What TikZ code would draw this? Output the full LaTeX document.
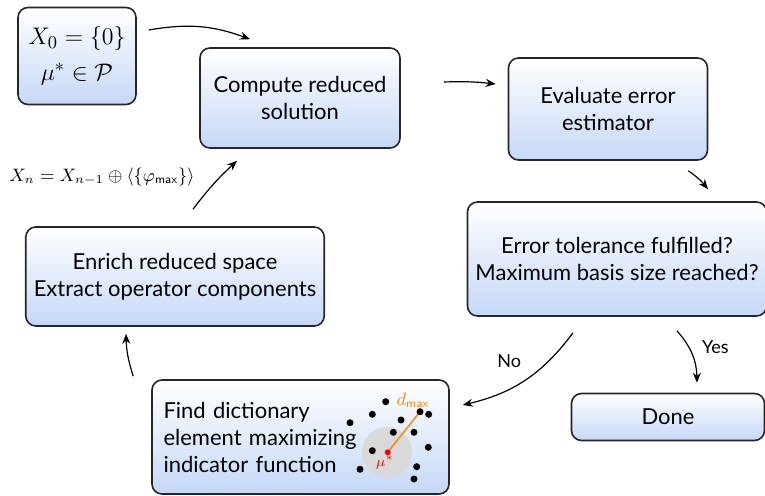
\documentclass[tikz,border=0pt]{standalone}
\usepackage{fontspec}
\setmainfont{Lato}
\usetikzlibrary{arrows.meta}
\definecolor{boxblue}{RGB}{197,216,247}
\definecolor{dorange}{RGB}{250,140,20}

\begin{document}
\begin{tikzpicture}[x=0.5pt, y=-0.5pt, font=\fontsize{11}{13.5}\selectfont]
\tikzstyle{stage} = [draw=black!85, thick, rounded corners=5pt, top color=white, bottom color=boxblue, align=center, inner sep=4pt]
\tikzstyle{flow} = [-{Stealth[length=5pt, width=4pt]}, semithick]
\tikzstyle{pt} = [circle, fill=black, inner sep=0pt, minimum size=3.5pt]
\useasboundingbox (0,0) rectangle (765,496);
\node[stage, minimum width=59pt, minimum height=48.5pt, font=\fontsize{13}{16}\selectfont] (init) at (77,56) {$X_0 = \{0\}$\\[2pt] $\mu^* \in \mathcal{P}$};
\node[stage, minimum width=100pt, minimum height=50pt] (compute) at (300,98) {Compute reduced\\solution};
\node[stage, minimum width=99.5pt, minimum height=51pt] (eval) at (608,109) {Evaluate error\\estimator};
\node[stage, minimum width=147.5pt, minimum height=57pt] (check) at (617,259) {Error tolerance fulfilled?\\Maximum basis size reached?};
\node[stage, minimum width=96.5pt, minimum height=23.5pt] (done) at (668,417) {Done};
\node[stage, minimum width=148.5pt, minimum height=57pt, text width=137pt, align=left, inner sep=5.5pt] (find) at (300.5,437) {Find dictionary\\element maximizing\\indicator function};
\node[stage, minimum width=148pt, minimum height=49.5pt] (enrich) at (175,276.5) {Enrich reduced space\\Extract operator components};
\node[font=\small] (update) at (102,177) {$X_n = X_{n-1} \oplus \langle\{\varphi_{\mathsf{max}}\}\rangle$};

% dictionary sketch
\fill[gray!30] (387,452) circle (12.5pt);
\foreach \px/\py in {385.7/401.7, 372.3/414.3, 350/422.7, 401/420, 428.7/414.3, 393.3/432.3, 414/432.3, 428.3/447.3, 372.3/450.7, 416.7/466.7, 360/469.3, 414/479}
  \node[pt] at (\px,\py) {};
\coordinate (mu) at (387.7,452.3);
\coordinate (far) at (420,411.7);
\draw[dorange, thick] (mu) -- (far);
\node[pt] at (far) {};
\node[circle, fill=red, inner sep=0pt, minimum size=3pt] at (mu) {};
\node[red, font=\scriptsize] (mulabel) at (385,463) {$\mu^*$};
\node[dorange, font=\small] (dlabel) at (413,400) {$d_{\mathsf{max}}$};

\draw[flow] ([shift={(6pt,13pt)}]init.east) to[bend left=15] ([shift={(-25pt,4pt)}]compute.north);
\draw[flow] ([shift={(21.5pt,8pt)}]compute.east) to[bend left=4] ([shift={(-6pt,12.5pt)}]eval.west);
\draw[flow] ([shift={(-10pt,-5pt)}]eval.south east) to[bend left=8] ([shift={(45.5pt,6pt)}]check.north);
\draw[flow] ([shift={(30pt,-7pt)}]check.south) to[bend left=20] node[pos=0.35, right=3pt, font=\small] {Yes} ([shift={(14.5pt,5pt)}]done.north);
\draw[flow] ([shift={(-22pt,-8pt)}]check.south) to[bend left=20] node[pos=0.45, above left=1pt, font=\small] {No} ([shift={(6.5pt,16pt)}]find.east);
\draw[flow] ([shift={(-9pt,1.5pt)}]find.north west) to[bend left=8] ([shift={(-24.5pt,-3.5pt)}]enrich.south);
\draw[flow] ([shift={(9pt,8.5pt)}]enrich.north) to[bend left=5] ([shift={(-31.5pt,-6pt)}]compute.south);
\end{tikzpicture}
\end{document}
